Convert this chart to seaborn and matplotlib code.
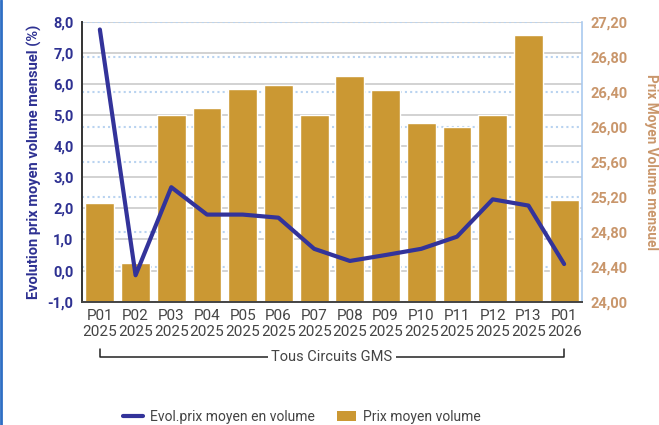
import numpy as np
import seaborn as sns
import matplotlib
matplotlib.use("Agg")
import matplotlib.pyplot as plt
from matplotlib.lines import Line2D
from matplotlib.patches import Patch
from matplotlib.transforms import blended_transform_factory

sns.set_theme(style="white")
plt.rcParams['font.family'] = ['Roboto', 'DejaVu Sans']

# Data.
periodes = ["P01\n2025", "P02\n2025", "P03\n2025", "P04\n2025", "P05\n2025",
            "P06\n2025", "P07\n2025", "P08\n2025", "P09\n2025", "P10\n2025",
            "P11\n2025", "P12\n2025", "P13\n2025", "P01\n2026"]
prix_moyen = [25.13, 24.44, 26.13, 26.21, 26.43, 26.48, 26.13,
              26.58, 26.42, 26.04, 26.00, 26.13, 27.05, 25.16]
evol_prix = [7.75, -0.15, 2.68, 1.80, 1.80, 1.70, 0.70,
             0.31, 0.50, 0.70, 1.09, 2.29, 2.09, 0.21]
evol_ticks = np.arange(-1, 9, 1)
prix_ticks = np.arange(24.0, 27.21, 0.4)

bar_color = "#CB9833"
line_color = "#33339A"
navy = "#2E3192"
tan = "#C9966B"
gray_txt = "#444444"

fig = plt.figure(figsize=(6.59, 4.25), dpi=100)
ax = fig.add_axes([82 / 659, 1 - 301.7 / 425, 500 / 659, 280 / 425])
ax2 = ax.twinx()

# bars (right scale) on the back axes
sns.barplot(x=periodes, y=prix_moyen, color=bar_color, saturation=1,
            width=0.81, ax=ax, zorder=2)
ax.set_ylim(24.0, 27.2)
ax.set_yticks(prix_ticks)
ax.set_yticklabels([f"{t:.2f}".replace(".", ",") for t in prix_ticks],
                   color=tan, fontweight="bold", fontsize=10.5)
ax.yaxis.tick_right()
ax.yaxis.set_label_position("right")
ax.set_ylabel("Prix Moyen Volume mensuel", color=tan, fontweight="bold",
              fontsize=9.8, rotation=270, labelpad=22)
ax.grid(axis="y", linestyle=(0, (1, 1.5)), color="#B9D3F0", linewidth=1.5)
ax.set_axisbelow(True)
ax.tick_params(axis="x", length=0, pad=5, labelsize=11, labelcolor=gray_txt)
ax.tick_params(axis="y", length=0, pad=6)
for s in ax.spines.values():
    s.set_visible(False)

# line (left scale) on the front axes
sns.lineplot(x=np.arange(len(periodes)), y=evol_prix, color=line_color,
             linewidth=3, ax=ax2)
ax2.set_ylim(-1, 8)
ax2.set_yticks(evol_ticks)
ax2.set_yticklabels([f"{t:.1f}".replace(".", ",") for t in evol_ticks],
                    color=navy, fontweight="bold", fontsize=10.5)
ax2.yaxis.tick_left()
ax2.yaxis.set_label_position("left")
ax2.set_ylabel("Evolution prix moyen volume mensuel (%)", color=navy,
               fontweight="bold", fontsize=10.5, labelpad=4)
ax2.tick_params(axis="y", length=0, pad=6)
ax2.set_xlim(-0.5, len(periodes) - 0.5)
ax2.spines["top"].set_visible(False)
ax2.spines["left"].set_color("#333333")
ax2.spines["left"].set_linewidth(1.4)
ax2.spines["bottom"].set_color("#444444")
ax2.spines["bottom"].set_linewidth(1.4)
ax2.spines["right"].set_color("#A9C9EF")
ax2.spines["right"].set_linewidth(1.2)

# solid grid for the left scale, behind the bars
ax.hlines(evol_ticks, 0, 1, transform=blended_transform_factory(ax.transAxes, ax2.transData),
          colors="#CFCFCF", linewidth=1.3, zorder=0.5)

# group bracket under the x labels
tr = blended_transform_factory(ax.transData, ax.transAxes)
ax.plot([0, 0, len(periodes) - 1, len(periodes) - 1], [-0.168, -0.197, -0.197, -0.168],
        transform=tr, color="#222222", linewidth=1.1, clip_on=False)
ax.text((len(periodes) - 1) / 2, -0.197, "Tous Circuits GMS", transform=tr,
        ha="center", va="center", fontsize=10.5, color=gray_txt,
        bbox=dict(facecolor="white", edgecolor="none", pad=2.5))

# legend
handles = [Line2D([], [], color=line_color, linewidth=3),
           Patch(facecolor=bar_color, edgecolor="none")]
fig.legend(handles, ["Evol.prix moyen en volume", "Prix moyen volume"],
           loc="center", bbox_to_anchor=(302 / 659, 1 - 417 / 425), ncol=2,
           frameon=False, fontsize=10, labelcolor=gray_txt,
           handlelength=1.4, handleheight=0.8, columnspacing=1.6, handletextpad=0.5)

# blue frame edge on the left
fig.add_artist(Line2D([0.002, 0.002], [0, 1], transform=fig.transFigure,
                      color="#2F6FC4", linewidth=2))

fig.savefig("out.png", dpi=100)
